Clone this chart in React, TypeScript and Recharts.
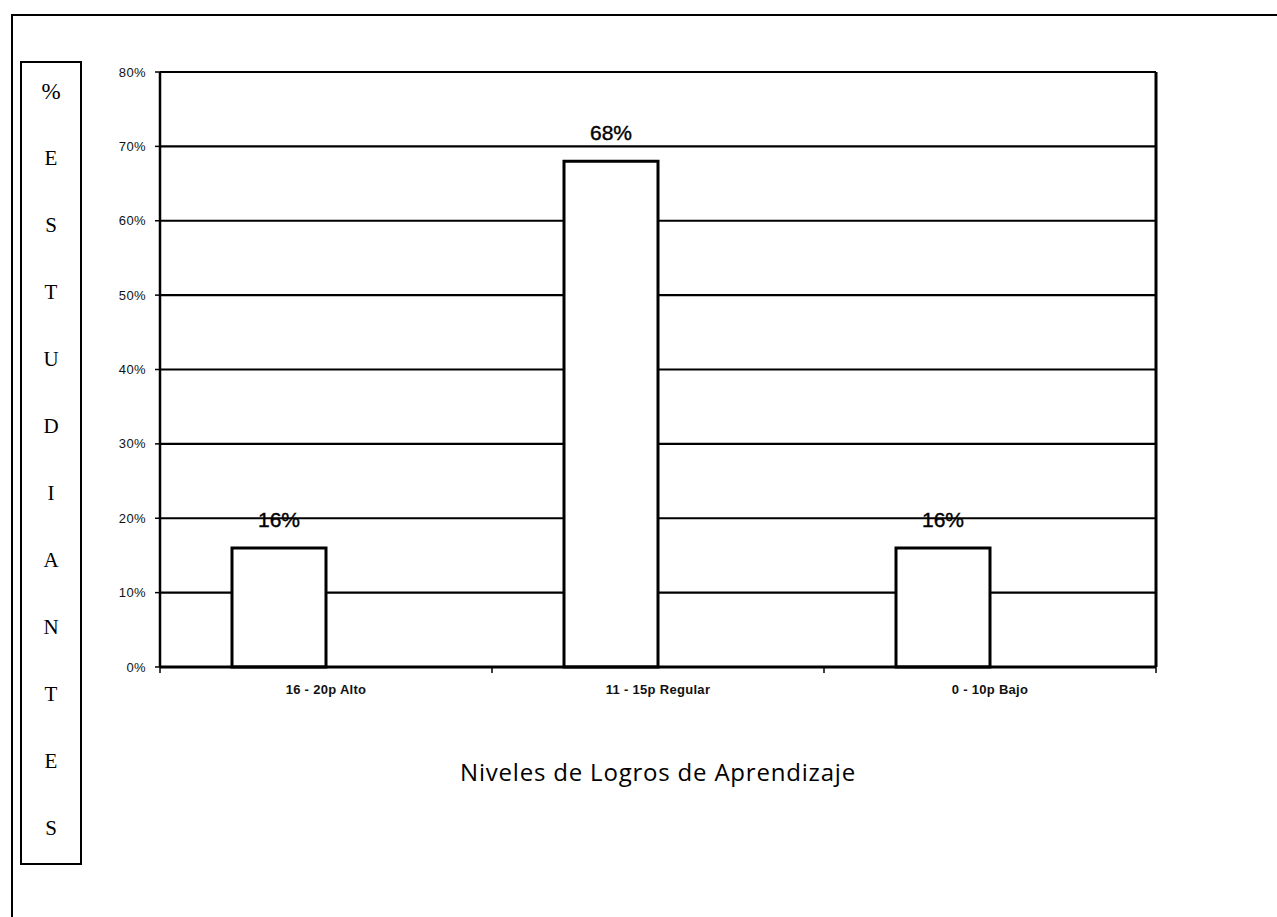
import React from "react";
import { BarChart, Bar, XAxis, YAxis, CartesianGrid, LabelList } from "recharts";

const niveles = ["16 - 20p Alto", "11 - 15p Regular", "0 - 10p Bajo"];
const porcentajes = [16, 68, 16];
// second Excel series left empty: it keeps the real bar to the left of each category centre
const serieVacia: (number | null)[] = [null, null, null];
const yTicks = [0, 10, 20, 30, 40, 50, 60, 70, 80];
const letrasEje = ["%", "E", "S", "T", "U", "D", "I", "A", "N", "T", "E", "S"];
const tituloX = "Niveles de Logros de Aprendizaje";

const data = niveles.map((nivel, i) => ({ nivel, valor: porcentajes[i], vacio: serieVacia[i] }));

const W = 1277;
const H = 917;
const M = { top: 72, right: 120, left: 100, bottom: 220 };
const plotW = W - M.left - 60 - M.right - 1;
const band = plotW / niveles.length;

function CatTick(props: any) {
  const { x, y, payload, index } = props;
  const last = index === niveles.length - 1;
  return (
    <g>
      <line x1={x - band / 2} x2={x - band / 2} y1={y} y2={y + 6} stroke="#000" strokeWidth={1.5} />
      {last && <line x1={x + band / 2} x2={x + band / 2} y1={y} y2={y + 6} stroke="#000" strokeWidth={1.5} />}
      <text
        x={x}
        y={y + 27}
        textAnchor="middle"
        fontSize={13}
        fontWeight="bold"
        letterSpacing={0.3}
        fontFamily="Liberation Sans, Arial"
        fill="#111"
      >
        {payload.value}
      </text>
    </g>
  );
}

export default function App() {
  return (
    <div style={{ position: "absolute", left: 0, top: 0, width: W, height: H, background: "#fff", overflow: "hidden" }}>
      <div
        style={{
          position: "absolute",
          left: 11,
          top: 14,
          width: W,
          height: H,
          borderTop: "2px solid #000",
          borderLeft: "2px solid #000",
        }}
      />
      <div
        style={{
          position: "absolute",
          left: 20,
          top: 61,
          width: 58,
          height: 800,
          border: "2px solid #000",
          fontFamily: "Liberation Serif, Times New Roman, serif",
          fontSize: 21,
          color: "#000",
        }}
      >
        <div style={{ marginTop: -5, textAlign: "center" }}>
          {letrasEje.map((l, i) => (
            <div key={i} style={{ height: 67, lineHeight: "67px", fontSize: i === 0 ? 23 : 21 }}>
              {l}
            </div>
          ))}
        </div>
      </div>
      <div style={{ position: "absolute", left: 0, top: 0 }}>
        <BarChart width={W} height={H} data={data} margin={M} barCategoryGap={72} barGap={0}>
          <CartesianGrid vertical={false} stroke="#000" strokeWidth={2.2} />
          <XAxis
            dataKey="nivel"
            height={30}
            tickSize={0}
            tickMargin={0}
            tick={<CatTick />}
            axisLine={{ stroke: "#000", strokeWidth: 3 }}
            interval={0}
          />
          <YAxis
            width={60}
            domain={[0, 80]}
            ticks={yTicks}
            tickFormatter={(v: number) => `${v}%`}
            tickSize={5}
            tickMargin={9}
            axisLine={{ stroke: "#000", strokeWidth: 2.5 }}
            tickLine={{ stroke: "#000", strokeWidth: 1.5 }}
            tick={{ fontSize: 13, letterSpacing: 0.4, fill: "#111", fontFamily: "Liberation Sans, Arial" }}
          />
          <YAxis
            yAxisId="r"
            orientation="right"
            width={1}
            domain={[0, 80]}
            ticks={yTicks}
            tick={false}
            tickLine={false}
            axisLine={{ stroke: "#000", strokeWidth: 3 }}
          />
          <Bar dataKey="valor" fill="#fff" stroke="#000" strokeWidth={3} isAnimationActive={false}>
            <LabelList
              dataKey="valor"
              position="top"
              offset={21}
              formatter={(v: any) => `${v}%`}
              style={{ fontSize: 21, fill: "#000", fontFamily: "Liberation Sans, Arial", stroke: "#000", strokeWidth: 0.4 }}
            />
          </Bar>
          <Bar dataKey="vacio" fill="none" stroke="none" isAnimationActive={false} />
        </BarChart>
      </div>
      <div
        style={{
          position: "absolute",
          left: 160,
          width: 996,
          top: 755,
          textAlign: "center",
          fontFamily: "Open Sans, sans-serif",
          fontSize: 24,
          letterSpacing: 0.8,
          color: "#000",
        }}
      >
        {tituloX}
      </div>
    </div>
  );
}
